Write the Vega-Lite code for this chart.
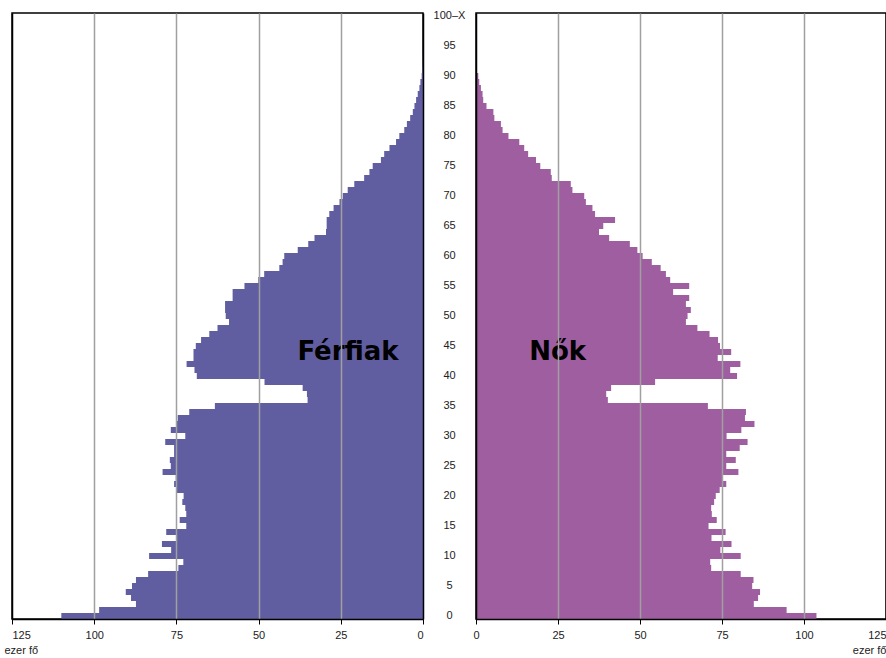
{
  "$schema": "https://vega.github.io/schema/vega-lite/v6.json",
  "padding": {"left": 3, "top": 8, "right": 0, "bottom": 0},
  "background": "white",
  "spacing": 7,
  "datasets": {
    "ferfiak": [
      {"age":0,"value":110},{"age":1,"value":98.5},{"age":2,"value":87.3},{"age":3,"value":88.8},{"age":4,"value":90.4},
      {"age":5,"value":88.5},{"age":6,"value":87.3},{"age":7,"value":83.6},{"age":8,"value":74.4},{"age":9,"value":72.9},
      {"age":10,"value":83.3},{"age":11,"value":76.6},{"age":12,"value":79.4},{"age":13,"value":74.8},{"age":14,"value":78.1},
      {"age":15,"value":72.0},{"age":16,"value":74.0},{"age":17,"value":72.0},{"age":18,"value":72.3},{"age":19,"value":73.2},
      {"age":20,"value":72.8},{"age":21,"value":75.0},{"age":22,"value":75.7},{"age":23,"value":75.2},{"age":24,"value":79.2},
      {"age":25,"value":76.7},{"age":26,"value":77.0},{"age":27,"value":75.7},{"age":28,"value":75.7},{"age":29,"value":78.4},
      {"age":30,"value":72.3},{"age":31,"value":76.7},{"age":32,"value":74.9},{"age":33,"value":74.6},{"age":34,"value":71.1},
      {"age":35,"value":63.3},{"age":36,"value":35.1},{"age":37,"value":35.3},{"age":38,"value":36.6},{"age":39,"value":48.2},
      {"age":40,"value":68.8},{"age":41,"value":69.5},{"age":42,"value":71.9},{"age":43,"value":69.8},{"age":44,"value":69.8},
      {"age":45,"value":69.1},{"age":46,"value":67.5},{"age":47,"value":65.0},{"age":48,"value":62.5},{"age":49,"value":59.0},
      {"age":50,"value":60.0},{"age":51,"value":60.2},{"age":52,"value":60.2},{"age":53,"value":57.9},{"age":54,"value":57.9},
      {"age":55,"value":54.3},{"age":56,"value":50.1},{"age":57,"value":48.3},{"age":58,"value":43.7},{"age":59,"value":42.7},
      {"age":60,"value":42.2},{"age":61,"value":38.1},{"age":62,"value":34.9},{"age":63,"value":33.0},{"age":64,"value":29.5},
      {"age":65,"value":29.3},{"age":66,"value":29.3},{"age":67,"value":28.5},{"age":68,"value":27.2},{"age":69,"value":25.4},
      {"age":70,"value":24.4},{"age":71,"value":22.9},{"age":72,"value":20.9},{"age":73,"value":17.9},{"age":74,"value":16.3},
      {"age":75,"value":15.3},{"age":76,"value":12.8},{"age":77,"value":11.8},{"age":78,"value":10.2},{"age":79,"value":8.2},
      {"age":80,"value":7.2},{"age":81,"value":5.7},{"age":82,"value":4.9},{"age":83,"value":3.9},{"age":84,"value":3.1},
      {"age":85,"value":2.6},{"age":86,"value":2.1},{"age":87,"value":1.6},{"age":88,"value":1.1},{"age":89,"value":0.8},
      {"age":90,"value":0.4},{"age":91,"value":0.2},{"age":92,"value":0.1},{"age":93,"value":0.05},{"age":94,"value":0},
      {"age":95,"value":0},{"age":96,"value":0},{"age":97,"value":0},{"age":98,"value":0},{"age":99,"value":0},
      {"age":100,"value":0}
    ],
    "nok": [
      {"age":0,"value":103.8},{"age":1,"value":94.7},{"age":2,"value":84.7},{"age":3,"value":86.0},{"age":4,"value":86.6},
      {"age":5,"value":84.2},{"age":6,"value":84.6},{"age":7,"value":80.7},{"age":8,"value":71.7},{"age":9,"value":71.4},
      {"age":10,"value":80.7},{"age":11,"value":74.5},{"age":12,"value":77.9},{"age":13,"value":71.8},{"age":14,"value":76.1},
      {"age":15,"value":70.9},{"age":16,"value":73.4},{"age":17,"value":71.9},{"age":18,"value":71.7},{"age":19,"value":72.6},
      {"age":20,"value":73.1},{"age":21,"value":74.3},{"age":22,"value":76.3},{"age":23,"value":75.1},{"age":24,"value":80.0},
      {"age":25,"value":76.3},{"age":26,"value":79.2},{"age":27,"value":76.3},{"age":28,"value":80.4},{"age":29,"value":82.8},
      {"age":30,"value":76.4},{"age":31,"value":80.9},{"age":32,"value":84.9},{"age":33,"value":82.0},{"age":34,"value":82.3},
      {"age":35,"value":70.7},{"age":36,"value":40.2},{"age":37,"value":39.7},{"age":38,"value":41.2},{"age":39,"value":54.6},
      {"age":40,"value":79.6},{"age":41,"value":77.5},{"age":42,"value":80.6},{"age":43,"value":73.7},{"age":44,"value":77.8},
      {"age":45,"value":74.4},{"age":46,"value":73.8},{"age":47,"value":71.2},{"age":48,"value":67.5},{"age":49,"value":64.0},
      {"age":50,"value":64.5},{"age":51,"value":65.5},{"age":52,"value":64.0},{"age":53,"value":65.0},{"age":54,"value":60.1},
      {"age":55,"value":65.0},{"age":56,"value":59.2},{"age":57,"value":57.9},{"age":58,"value":56.3},{"age":59,"value":53.6},
      {"age":60,"value":50.8},{"age":61,"value":49.2},{"age":62,"value":46.9},{"age":63,"value":40.6},{"age":64,"value":37.5},
      {"age":65,"value":38.8},{"age":66,"value":42.4},{"age":67,"value":36.3},{"age":68,"value":35.5},{"age":69,"value":33.5},
      {"age":70,"value":33.0},{"age":71,"value":29.4},{"age":72,"value":28.9},{"age":73,"value":23.1},{"age":74,"value":22.8},
      {"age":75,"value":19.6},{"age":76,"value":18.3},{"age":77,"value":15.9},{"age":78,"value":14.7},{"age":79,"value":13.2},
      {"age":80,"value":9.9},{"age":81,"value":8.1},{"age":82,"value":7.6},{"age":83,"value":5.6},{"age":84,"value":5.3},
      {"age":85,"value":3.2},{"age":86,"value":2.2},{"age":87,"value":2.0},{"age":88,"value":1.5},{"age":89,"value":1.0},
      {"age":90,"value":0.7},{"age":91,"value":0.3},{"age":92,"value":0.2},{"age":93,"value":0.1},{"age":94,"value":0},
      {"age":95,"value":0},{"age":96,"value":0},{"age":97,"value":0},{"age":98,"value":0},{"age":99,"value":0},
      {"age":100,"value":0}
    ]
  },
  "hconcat": [
    {
      "width": 411,
      "height": 606,
      "layer": [
        {
          "data": {"name": "ferfiak"},
          "mark": {"type": "bar", "color": "#605ea0"},
          "encoding": {
            "y": {
              "field": "age", "type": "ordinal", "axis": null,
              "scale": {"paddingInner": 0, "paddingOuter": 0, "domain": [100,99,98,97,96,95,94,93,92,91,90,89,88,87,86,85,84,83,82,81,80,79,78,77,76,75,74,73,72,71,70,69,68,67,66,65,64,63,62,61,60,59,58,57,56,55,54,53,52,51,50,49,48,47,46,45,44,43,42,41,40,39,38,37,36,35,34,33,32,31,30,29,28,27,26,25,24,23,22,21,20,19,18,17,16,15,14,13,12,11,10,9,8,7,6,5,4,3,2,1,0]}
            },
            "x": {
              "field": "value", "type": "quantitative",
              "scale": {"domain": [0, 125], "reverse": true, "nice": false, "zero": true},
              "axis": {
                "values": [0, 25, 50, 75, 100, 125],
                "grid": true,
                "gridColor": {"condition": {"test": "datum.value === 0 || datum.value === 125", "value": "#000000"}, "value": "#a0a0a0"},
                "gridWidth": 1.5,
                "zindex": 1,
                "domainColor": "#000000",
                "domainWidth": 1.5,
                "tickColor": "#000000",
                "tickSize": 5,
                "labelPadding": 5,
                "title": "ezer fő",
                "titleX": -8,
                "titleY": 25,
                "titleAlign": "left",
                "titleBaseline": "top"
              }
            }
          }
        },
        {
          "data": {"values": [{"age": 44, "value": 22.8, "label": "Férfiak"}]},
          "mark": {"type": "text", "font": "DejaVu Sans", "fontWeight": "bold", "fontSize": 26, "color": "#000000", "baseline": "middle", "align": "center"},
          "encoding": {
            "y": {"field": "age", "type": "ordinal"},
            "x": {"field": "value", "type": "quantitative"},
            "text": {"field": "label"}
          }
        }
      ]
    },
    {
      "width": 410,
      "height": 606,
      "layer": [
        {
          "data": {"name": "nok"},
          "mark": {"type": "bar", "color": "#9e5ea0"},
          "encoding": {
            "y": {
              "field": "age", "type": "ordinal",
              "scale": {"paddingInner": 0, "paddingOuter": 0, "domain": [100,99,98,97,96,95,94,93,92,91,90,89,88,87,86,85,84,83,82,81,80,79,78,77,76,75,74,73,72,71,70,69,68,67,66,65,64,63,62,61,60,59,58,57,56,55,54,53,52,51,50,49,48,47,46,45,44,43,42,41,40,39,38,37,36,35,34,33,32,31,30,29,28,27,26,25,24,23,22,21,20,19,18,17,16,15,14,13,12,11,10,9,8,7,6,5,4,3,2,1,0]},
              "axis": {
                "orient": "left",
                "values": [0,5,10,15,20,25,30,35,40,45,50,55,60,65,70,75,80,85,90,95,100],
                "labelExpr": "datum.value === 100 ? '100–X' : datum.label",
                "ticks": false,
                "tickSize": 0,
                "domain": false,
                "labelAlign": "center",
                "labelBaseline": "middle",
                "labelPadding": 27,
                "labelAngle": 0,
                "title": null
              }
            },
            "x": {
              "field": "value", "type": "quantitative",
              "scale": {"domain": [0, 125], "nice": false, "zero": true},
              "axis": {
                "values": [0, 25, 50, 75, 100, 125],
                "grid": true,
                "gridColor": {"condition": {"test": "datum.value === 0 || datum.value === 125", "value": "#000000"}, "value": "#a0a0a0"},
                "gridWidth": 1.5,
                "zindex": 1,
                "domainColor": "#000000",
                "domainWidth": 1.5,
                "tickColor": "#000000",
                "tickSize": 5,
                "labelPadding": 5,
                "labelAlign": {"condition": {"test": "datum.value === 125", "value": "right"}, "value": "center"},
                "title": "ezer fő",
                "titleX": 410,
                "titleY": 25,
                "titleAlign": "right",
                "titleBaseline": "top"
              }
            }
          }
        },
        {
          "data": {"values": [{"age": 44, "value": 24.9, "label": "Nők"}]},
          "mark": {"type": "text", "font": "DejaVu Sans", "fontWeight": "bold", "fontSize": 26, "color": "#000000", "baseline": "middle", "align": "center"},
          "encoding": {
            "y": {"field": "age", "type": "ordinal"},
            "x": {"field": "value", "type": "quantitative"},
            "text": {"field": "label"}
          }
        }
      ]
    }
  ],
  "config": {
    "view": {"stroke": "#000000", "strokeWidth": 1.5},
    "axis": {
      "labelFont": "Liberation Sans",
      "labelFontSize": 11,
      "labelColor": "#222222",
      "titleFont": "Liberation Sans",
      "titleFontSize": 11,
      "titleFontWeight": "normal",
      "titleColor": "#222222"
    }
  }
}
